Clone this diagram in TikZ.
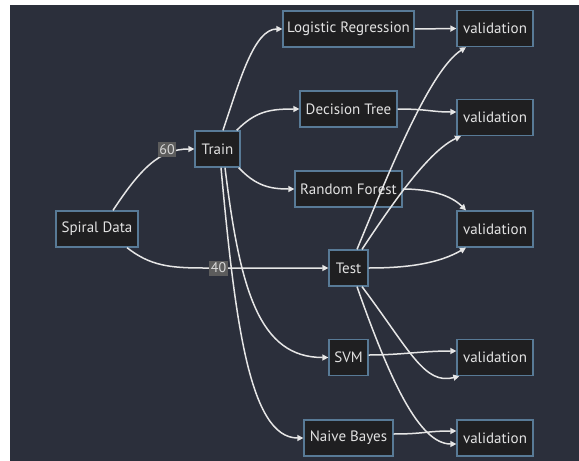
\documentclass[tikz,border=0pt]{standalone}
\usepackage{fontspec}
\setmainfont{PT Sans}
\usetikzlibrary{arrows.meta}
\definecolor{bgdark}{HTML}{2B2F3B}
\definecolor{nodefill}{HTML}{1F1F21}
\definecolor{nodeborder}{HTML}{587A96}
\definecolor{nodetext}{HTML}{E2E2E2}
\definecolor{edgecol}{HTML}{E6E6E6}
\definecolor{lblfill}{HTML}{5C5C5C}
\definecolor{lbltext}{HTML}{D8D8D8}
\tikzset{
  box/.style={draw=nodeborder, fill=nodefill, line width=1.3pt, text=nodetext,
    minimum height=36pt, inner sep=0pt, font=\fontsize{15}{18}\selectfont},
  edge/.style={draw=edgecol, line width=1.5pt, -{Triangle[length=6pt,width=6pt]}},
  lbl/.style={fill=lblfill, text=lbltext, inner sep=1.5pt, minimum height=15pt, font=\fontsize{14}{16}\selectfont}
}
\begin{document}
\begin{tikzpicture}[x=1pt,y=-1pt]
\useasboundingbox (0,0) rectangle (579,461);
\fill[white] (0,0) rectangle (579,461);
\fill[bgdark] (10,5) rectangle (579,461);
% nodes
\node[box, minimum width=82pt] (spiral) at (97,229) {Spiral Data};
\node[box, minimum width=45pt] (train) at (217.5,149) {Train};
\node[box, minimum width=131pt] (lr) at (348.5,29) {Logistic Regression};
\node[box, minimum width=97pt] (dt) at (348.5,109) {Decision Tree};
\node[box, minimum width=107pt] (rf) at (348.5,189) {Random Forest};
\node[box, minimum width=39pt] (test) at (348.5,268) {Test};
\node[box, minimum width=39pt] (svm) at (348.5,357.5) {SVM};
\node[box, minimum width=89pt] (nb) at (348.5,438) {Naive Bayes};
\node[box, minimum width=76pt] (v1) at (495,28.5) {validation};
\node[box, minimum width=76pt] (v2) at (495,117.5) {validation};
\node[box, minimum width=76pt] (v3) at (495,229) {validation};
\node[box, minimum width=76pt] (v4) at (495,357.5) {validation};
\node[box, minimum width=76pt] (v5) at (495,438) {validation};
% edges
\draw[edge] ([xshift=16pt]spiral.north) .. controls +(27,-41) and +(-35,0) .. (train.west);
\coordinate (c40) at ([xshift=-124pt]test.west);
\draw[edge] ([xshift=30pt]spiral.south) .. controls +(23,18) and +(-35,0) .. (c40) -- (test.west);
\draw[edge] ([xshift=5.5pt]train.north) .. controls +(17,-51) and +(-28,0) .. (lr.west);
\draw[edge] ([xshift=-4pt]train.north east) .. controls +(19,-19) and +(-30,0) .. (dt.west);
\draw[edge] ([xshift=-2pt]train.south east) .. controls +(17,18) and +(-25,0) .. (rf.west);
\draw[edge] ([xshift=7.5pt]train.south) .. controls +(15,123) and +(-69,0) .. (svm.west);
\draw[edge] ([xshift=3.5pt]train.south) .. controls +(14,153) and +(-54,0) .. (nb.west);
\draw[edge] (lr.east) -- (v1.west);
\draw[edge] (dt.east) .. controls +(30,0) and +(-25,0) .. ([yshift=5.5pt]v2.west);
\draw[edge] (rf.east) .. controls +(28,0) and +(-15,-15) .. ([xshift=-29pt]v3.north);
\draw[edge] ([xshift=8.5pt]test.north) .. controls +(33,-80) and +(-36,23) .. ([xshift=-29pt]v1.south);
\draw[edge] ([xshift=13.5pt]test.north) .. controls +(33,-50) and +(-31,14) .. ([xshift=-34pt]v2.south);
\draw[edge] (test.east) .. controls +(42,0) and +(-26,15) .. ([xshift=-29pt]v3.south);
\draw[edge] ([xshift=13.5pt]test.south) .. controls +(48,64) and +(-35,9) .. ([xshift=3pt]v4.south west);
\draw[edge] ([xshift=8.5pt]test.south) .. controls +(33,94) and +(-37,0) .. ([yshift=-6pt]v5.west);
\draw[edge] ([yshift=2.5pt]svm.east) .. controls +(32,0) and +(-35,0) .. ([yshift=6.5pt]v4.west);
\draw[edge] ([yshift=4pt]nb.east) .. controls +(30,0) and +(-30,0) .. ([yshift=7pt]v5.west);
% labels
\node[lbl] (l60) at (167,149.5) {60};
\node[lbl] (l40) at (218.5,268) {40};
\end{tikzpicture}
\end{document}
